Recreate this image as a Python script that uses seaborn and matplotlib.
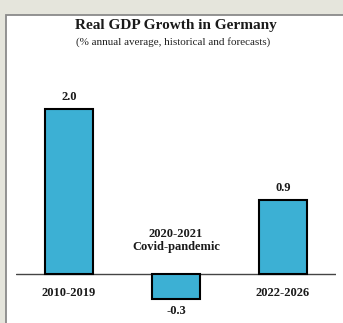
import matplotlib
matplotlib.use("Agg")
import matplotlib.pyplot as plt
import seaborn as sns
import pandas as pd
from matplotlib.patches import Rectangle

sns.set_style("white")
plt.rcParams['font.family'] = ['Liberation Serif', 'DejaVu Serif']

periods = ["2010-2019", "2020-2021\nCovid-pandemic", "2022-2026"]
growth = [2.0, -0.3, 0.9]
value_labels = ["2.0", "-0.3", "0.9"]
title = "Real GDP Growth in Germany"
subtitle = "(% annual average, historical and forecasts)"

df = pd.DataFrame({"period": periods, "growth": growth})

W, H = 343, 323
fig = plt.figure(figsize=(W / 100, H / 100), dpi=100)
fig.patch.set_facecolor("#e5e5dc")

# white panel with gray left/top border
panel = Rectangle((5.5 / W, -0.1), 1.2, 1.1 - 14.5 / H, transform=fig.transFigure,
                  facecolor="white", edgecolor="#8a8a8a", linewidth=1.3, zorder=-5)
fig.add_artist(panel)

ax_top_px = 60
ax = fig.add_axes([15.5 / W, 0, 321 / W, (H - ax_top_px) / H])
ax.set_zorder(2)
ax.set_facecolor("none")
sns.barplot(data=df, x="period", y="growth", ax=ax, color="#3cb0d4",
            edgecolor="black", linewidth=1.5, width=0.45, saturation=1)
ax.set_xlim(-0.5, 2.5)
ppu = 82.5
base_px = 274
ax.set_ylim(-(H - base_px) / ppu, (base_px - ax_top_px) / ppu)
ax.axhline(0, color="#444444", linewidth=1.0, zorder=0)
for s in ax.spines.values():
    s.set_visible(False)
ax.set_xticks([])
ax.set_yticks([])
ax.set_xlabel("")
ax.set_ylabel("")

for i, (v, lab, cat) in enumerate(zip(growth, value_labels, periods)):
    if v >= 0:
        ax.annotate(lab, (i, v), xytext=(0, 4), textcoords="offset points",
                    ha="center", va="bottom", fontsize=9, fontweight="bold", color="#1a1a1a")
        ax.annotate(cat, (i, 0), xytext=(0, -13.5), textcoords="offset points",
                    ha="center", va="center", fontsize=9, fontweight="bold", color="#1a1a1a")
    else:
        ax.annotate(lab, (i, v), xytext=(0, -9), textcoords="offset points",
                    ha="center", va="center", fontsize=9, fontweight="bold", color="#1a1a1a")
        ax.annotate(cat, (i, 0), xytext=(0, 24), textcoords="offset points",
                    ha="center", va="center", fontsize=9, fontweight="bold", color="#1a1a1a",
                    linespacing=1.05)

fig.text(176 / W, 1 - 25 / H, title, ha="center", va="center", fontsize=11,
         fontweight="bold", color="#1a1a1a")
fig.text(173 / W, 1 - 42 / H, subtitle, ha="center", va="center", fontsize=8,
         color="#222222")

fig.savefig("out.png", dpi=100, facecolor=fig.get_facecolor())
